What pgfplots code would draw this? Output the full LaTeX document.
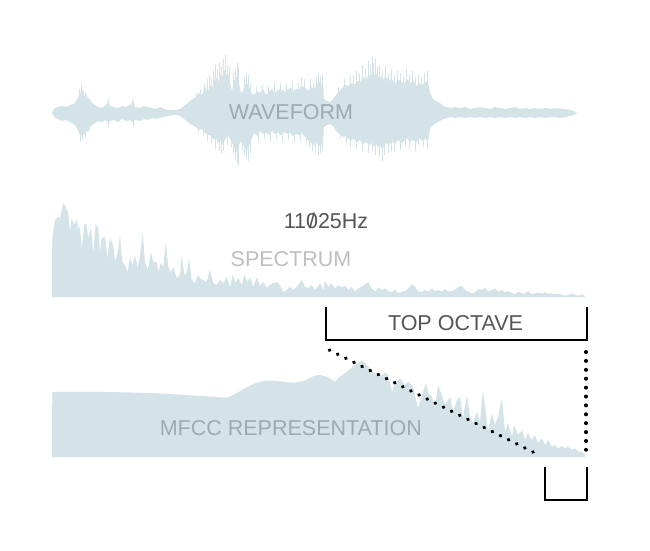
\documentclass[border=0pt]{standalone}
\usepackage{pgfplots}
\pgfplotsset{compat=1.18}
\usepgfplotslibrary{fillbetween}
\usepackage{fontspec}
\setmainfont{Liberation Sans}
\definecolor{wave}{RGB}{212,227,232}
\definecolor{ink}{RGB}{85,85,85}
\newcommand\lbl{\fontsize{21.5}{24}\selectfont}
\newcommand\slz{\ooalign{0\cr\hidewidth/\hidewidth\cr}}
\pgfplotsset{panel/.style={scale only axis, width=650pt, height=550pt,
  xmin=0, xmax=650, hide axis, clip=false, at={(0pt,0pt)}, anchor=south west}}
\begin{document}
\begin{tikzpicture}
\path (0,0) rectangle (650pt,550pt);
% ---------------- WAVEFORM ----------------
\begin{axis}[panel, ymin=-437, ymax=113]
\addplot[draw=none, name path=up] coordinates {
(52,0) (54,4) (58,6) (62,7) (66,6) (70,8) (74,9) (77,14) (79,18) (81,22) (82,25) (84,17) (86,19) (88,15) (90,14) (92,10) (95,8) (98,6)
(102,5) (106,8) (108,12) (110,7) (114,6) (118,5) (122,7) (126,6) (130,8) (133,12) (135,6) (140,5) (144,7) (148,6) (152,5) (156,4) (160,6)
(164,4) (168,3) (172,3) (176,3) (180,4) (184,7) (188,10) (192,14) (196,16) (199,20) (202,18) (205,25) (208,22) (210,28) (212,24) (214,32)
(216,36) (218,30) (220,40) (222,35) (224,42) (225,44) (226,38) (228,40) (230,30) (232,22) (234,32) (236,36) (238,38) (239,30) (241,20)
(243,22) (245,28) (247,30) (249,26) (251,20) (254,18) (257,22) (260,20) (263,24) (266,18) (269,22) (272,24) (275,20) (278,23) (281,24)
(284,21) (287,23) (290,25) (293,22) (296,24) (299,23) (302,27) (305,25) (308,22) (311,26) (314,24) (317,28) (319,32) (321,28) (323,30)
(324,14) (327,12) (330,11) (333,14) (336,18) (339,22) (342,25) (345,28) (348,27) (351,30) (354,28) (357,32) (360,31) (363,36) (366,34)
(369,38) (371,36) (372,42) (374,38) (376,40) (378,35) (380,37) (383,34) (386,36) (389,32) (392,34) (395,29) (398,33) (401,32) (404,29)
(407,34) (410,30) (413,33) (416,27) (419,30) (422,28) (425,31) (428,32) (430,20) (433,14) (436,12) (440,10) (443,7) (447,6) (451,5)
(455,6) (460,5) (465,6) (470,4) (475,5) (480,6) (485,5) (490,4) (495,6) (500,5) (505,4) (510,5) (515,6) (520,4) (525,5) (530,4) (535,5)
(540,4) (545,5) (550,4) (555,5) (560,4) (565,4) (570,3) (574,2) (577,0)};
\addplot[draw=none, name path=lo] coordinates {
(52,0) (54,-4) (58,-6) (62,-8) (66,-7) (70,-9) (74,-11) (77,-15) (79,-20) (81,-24) (82,-22) (84,-22) (86,-18) (88,-19) (90,-15) (92,-12)
(95,-10) (98,-8) (102,-9) (106,-7) (108,-11) (110,-8) (114,-7) (118,-9) (122,-6) (126,-8) (130,-7) (133,-10) (135,-7) (140,-8) (144,-6)
(148,-7) (152,-5) (156,-6) (160,-5) (164,-4) (168,-3) (172,-2) (176,-2) (180,-3) (184,-6) (188,-9) (192,-12) (196,-14) (199,-17) (202,-16)
(205,-20) (208,-22) (210,-22) (212,-25) (214,-27) (216,-25) (218,-30) (220,-27) (222,-32) (224,-28) (226,-25) (228,-22) (230,-26) (232,-30)
(234,-34) (236,-38) (238,-40) (239,-32) (241,-28) (243,-32) (245,-36) (247,-38) (249,-33) (251,-28) (254,-20) (257,-23) (260,-18) (263,-21)
(266,-20) (269,-22) (272,-18) (275,-21) (278,-20) (281,-22) (284,-19) (287,-21) (290,-20) (293,-23) (296,-21) (299,-22) (302,-20) (305,-24)
(308,-27) (311,-30) (314,-32) (317,-30) (319,-33) (321,-32) (323,-30) (324,-14) (327,-12) (330,-11) (333,-13) (336,-18) (339,-21) (342,-24)
(345,-23) (348,-26) (351,-27) (354,-26) (357,-29) (360,-27) (363,-31) (366,-29) (369,-32) (371,-30) (374,-33) (376,-31) (378,-34) (380,-32)
(382,-36) (384,-33) (386,-30) (389,-32) (392,-28) (395,-31) (398,-27) (401,-30) (404,-28) (407,-25) (410,-29) (413,-27) (416,-30) (419,-25)
(422,-28) (425,-26) (428,-29) (430,-16) (433,-12) (436,-10) (440,-8) (443,-6) (447,-5) (451,-4) (455,-5) (460,-4) (465,-5) (470,-4)
(475,-5) (480,-4) (485,-5) (490,-4) (495,-5) (500,-4) (505,-5) (510,-4) (515,-5) (520,-4) (525,-5) (530,-4) (535,-5) (540,-4) (545,-5)
(550,-4) (555,-4) (560,-5) (565,-4) (570,-3) (574,-2) (577,0)};
\addplot[fill=wave, draw=none] fill between[of=up and lo];
% thin spikes beyond the body
\addplot[ycomb, draw=wave, line width=1pt, mark=none] coordinates {
(79,24) (81,28) (83,22) (85,21) (108,14) (133,14) (196,20) (200,24) (204,30) (207,34) (209,38) (211,34) (213,42) (215,48) (217,44)
(219,50) (221,46) (223,54) (225,58) (227,48) (229,46) (233,40) (235,44) (237,50) (238,46) (244,36) (246,40) (248,38) (250,30) (256,26)
(262,28) (268,27) (274,30) (280,30) (286,29) (292,32) (298,30) (301,36) (304,34) (310,34) (313,30) (316,36) (318,40) (320,36) (322,38)
(338,26) (344,34) (350,37) (353,38) (356,42) (359,40) (362,48) (365,44) (368,52) (370,48) (372,56) (373,50) (375,55) (377,46) (379,48)
(382,42) (385,46) (388,40) (391,44) (394,38) (397,42) (400,40) (403,36) (406,44) (409,38) (412,42) (415,36) (418,38) (421,36) (424,40) (427,42)};
\addplot[ycomb, draw=wave, line width=1pt, mark=none] coordinates {
(80,-28) (82,-27) (85,-24) (108,-14) (133,-13) (198,-20) (203,-22) (207,-28) (211,-30) (215,-36) (219,-38) (221,-40) (223,-38) (227,-32)
(231,-34) (233,-40) (235,-46) (237,-50) (238,-52) (242,-38) (244,-42) (246,-46) (248,-48) (250,-40) (258,-28) (264,-26) (270,-28) (276,-26)
(282,-28) (288,-27) (294,-29) (300,-28) (306,-30) (309,-34) (312,-38) (315,-40) (318,-42) (320,-40) (322,-38) (340,-26) (346,-30) (350,-34)
(356,-36) (362,-38) (368,-40) (372,-38) (375,-42) (379,-44) (382,-48) (384,-42) (388,-40) (391,-38) (394,-38) (400,-37) (405,-34) (409,-36)
(415,-38) (418,-32) (423,-34) (427,-36)};
\node[font=\lbl, text=black, text opacity=0.25, inner sep=0pt] at (axis cs:291,1) {WAVEFORM};
\end{axis}
% ---------------- SPECTRUM ----------------
\begin{axis}[panel, ymin=-253, ymax=297]
\addplot[fill=wave, draw=none] coordinates {
(52,0) (52.3,60) (55,77) (58.3,80) (60,79) (63.3,94) (65.7,90) (68.3,84) (70,65) (71.7,79) (74.3,72) (76.7,77) (78.3,69) (80,70) (81.7,49)
(84.3,72) (86.3,74) (88.3,59) (91,69) (93.3,44) (95.7,73) (98.3,69) (100,45) (101.7,59) (105,60) (107.3,39) (110,59) (113.3,52) (115,35)
(117.7,44) (120,62) (122.3,35) (125,32) (127.7,25) (130,40) (132.3,32) (135,42) (137.7,29) (140,42) (142.7,64) (145,35) (147.7,27) (151,45)
(153.3,35) (156.7,35) (158.3,25) (161,34) (163.3,30) (165.7,55) (168.3,30) (171,24) (173.3,30) (176.7,19) (180,22) (181.7,42) (184.3,22)
(186.7,24) (189,39) (191.7,17) (195,14) (197.7,22) (200,19) (203.3,17) (206.7,15) (210,27) (213.3,14) (216.7,12) (220,17) (223.3,14)
(226.7,20) (230,10) (232.7,22) (235.7,14) (238.3,19) (241.7,12) (244.3,22) (247.7,15) (250,20) (253.3,10) (256.7,20) (260,11) (263.3,15)
(266.7,9) (270,12) (273.3,14) (276.7,15) (280,12) (283.3,5) (286.7,7) (290,10) (293.3,7) (298.3,12) (301.7,17) (305,10) (308.3,9)
(311.7,12) (315,7) (316.7,8.7) (320,13.7) (323.3,7) (325,16) (328.3,10.3) (331.7,13.7) (335,8.7) (338.3,12) (341.7,9.3) (345,11.3)
(348.3,7) (351.7,10.3) (355,5.3) (358.3,8.7) (361.7,10.3) (365,12.7) (368.3,14.7) (371.7,8.7) (375,5.3) (378.3,9.3) (381.7,7) (385,8.7)
(388.3,6) (391.7,4.7) (395,7) (398.3,3.7) (401.7,5.3) (405,6) (408.3,8.7) (411.7,12.7) (415,10.3) (418.3,5.3) (421.7,4.7) (425,7)
(428.3,5.3) (431.7,8.7) (435,6) (438.3,7) (441.7,5.3) (445,8) (448.3,5.3) (451.7,6) (455,7) (458.3,10.3) (461.7,11.3) (465,7) (468.3,5.3)
(471.7,3.7) (475,4.7) (478.3,8) (481.7,7) (485,9.3) (488.3,5.3) (491.7,7) (495,8.7) (498.3,5.3) (501.7,7) (505,4.7) (508.3,6) (511.7,3.7)
(515,2.7) (518.3,5.3) (521.7,3.7) (525,3.7) (528.3,6) (531.7,2.7) (535,3.7) (538.3,4.3) (541.7,3.3) (545,4.7) (548.3,3.3) (551.7,3.7)
(555,2.7) (558.3,3.3) (561.7,2) (565,1.3) (568.3,2) (571.7,3.7) (575,2) (578.3,1.3) (581.7,2.7) (585,1) (585,0)} \closedcycle;
\node[font=\lbl, text=black, text opacity=0.25, inner sep=0pt] at (axis cs:291,37.5) {SPECTRUM};
\node[font=\lbl, text=ink, inner sep=0pt] at (axis cs:326,76.2) {11\slz25Hz};
\draw[line width=1.6pt, black] (axis cs:326,-9.7) -- (axis cs:326,-43) -- (axis cs:586.7,-43) -- (axis cs:586.7,-9.7);
\node[font=\lbl, text=ink, inner sep=0pt] at (axis cs:455.5,-26.3) {TOP OCTAVE};
\end{axis}
% ---------------- MFCC ----------------
\begin{axis}[panel, ymin=-93, ymax=457]
\addplot[fill=wave, draw=none] coordinates {
(52,0) (52.3,65) (80,65.2) (108,65) (130,64.5) (158,63.7) (185,62) (212,60.3) (227,59.3) (235,63) (245,68.7) (255,73.7) (265,76.3)
(275,76.3) (285,75) (295,74.3) (305,76.3) (312,80.3) (318,82) (320,82) (327,80.3) (335,75.3) (340,80.3) (347,85.3) (353,90.3) (358,94)
(362,96.3) (367,92) (373,85.3) (380,80.3) (385,84.7) (388,82) (392,65.3) (395,73.7) (400,78.7) (405,72) (408,75.3) (413,70.3) (418,48.7)
(422,62) (426,73.7) (428.3,63.7) (432,60.3) (435,48.7) (438,72) (441.7,62) (445,52) (450,60.3) (453,45.3) (457,57) (460,60.3) (463,38.7)
(467,62) (470,40.3) (473,33.7) (477,45.3) (480,35.3) (483,67) (485,50.3) (488,27) (492,43.7) (495,32) (498,40.3) (502,58.7) (505,25.3)
(508,33.7) (512,20.3) (514,32) (518,22) (522,27) (525,17) (528,23.7) (532,17) (535,22) (538,13.7) (542,18.7) (545,12) (548,17) (552,10.3)
(555,12) (558,8.7) (562,11) (565,8.7) (568,10.3) (572,7) (575,8.7) (578,5.3) (582,5.3) (585,2) (585,0)} \closedcycle;
\node[font=\lbl, text=black, text opacity=0.25, inner sep=0pt] at (axis cs:290.8,28.5) {MFCC REPRESENTATION};
\draw[line width=3.4pt, line cap=round, dash pattern=on 0.6pt off 8.5pt] (axis cs:329.3,107) -- (axis cs:539,2);
\draw[line width=3.4pt, line cap=round, dash pattern=on 0.6pt off 8.3pt] (axis cs:586,105.3) -- (axis cs:586,7);
\draw[line width=1.6pt, black] (axis cs:545,-9.7) -- (axis cs:545,-43) -- (axis cs:586.7,-43) -- (axis cs:586.7,-9.7);
\end{axis}
\end{tikzpicture}
\end{document}
